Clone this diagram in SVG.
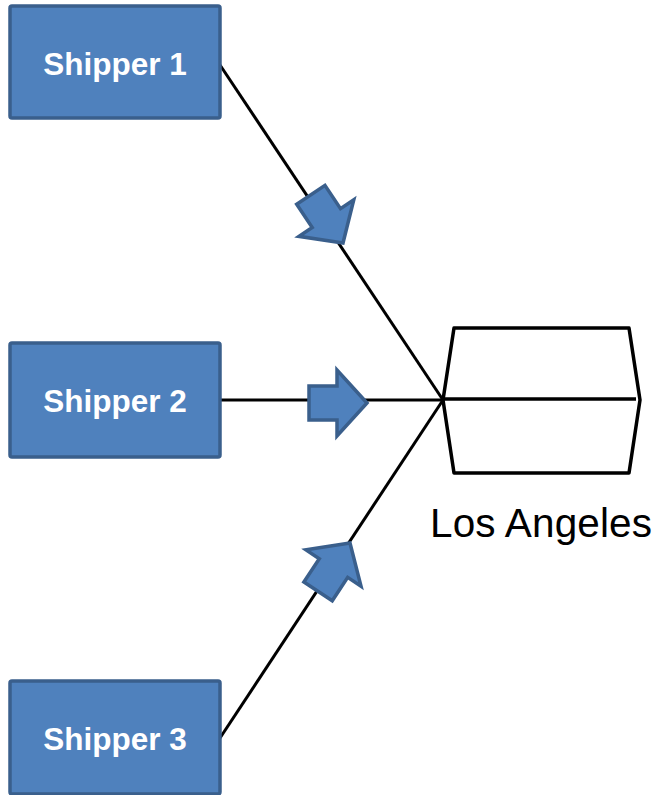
<svg xmlns="http://www.w3.org/2000/svg" width="660" height="795" viewBox="0 0 660 795">
<style>
.box{fill:#4F81BD;stroke:#3A5F8C;stroke-width:3.5}
.lbl{font-family:"Liberation Sans",Arial,sans-serif;font-weight:bold;font-size:31.5px;fill:#fff;text-anchor:middle}
.ln{stroke:#000;stroke-width:3;fill:none}
.arr{fill:#4F81BD;stroke:#3A5F8C;stroke-width:3.5;stroke-linejoin:miter}
</style>
<defs>
<path id="blk" d="M0,0 L-30,-33 L-30,-17 L-58,-17 L-58,17 L-30,17 L-30,33 Z"/>
</defs>
<g id="connectors">
<line class="ln" x1="220" y1="65" x2="443" y2="400"/>
<line class="ln" x1="220" y1="400" x2="443" y2="400"/>
<line class="ln" x1="220" y1="738" x2="443" y2="400"/>
<use href="#blk" class="arr" transform="translate(343,243) rotate(56.3)"/>
<use href="#blk" class="arr" transform="translate(367,403)"/>
<use href="#blk" class="arr" transform="translate(350,543) rotate(-56.6)"/>
</g>
<g id="shipper1">
<rect class="box" x="10" y="6" width="210" height="112" rx="2"/>
<text class="lbl" x="115" y="75">Shipper 1</text>
</g>
<g id="shipper2">
<rect class="box" x="10" y="343" width="210" height="114" rx="2"/>
<text class="lbl" x="115" y="412">Shipper 2</text>
</g>
<g id="shipper3">
<rect class="box" x="10" y="681" width="210" height="113" rx="2"/>
<text class="lbl" x="115" y="750">Shipper 3</text>
</g>
<g id="los-angeles">
<path d="M443,400 L454,328 L629,328 L640,400 L629,473 L454,473 Z" fill="#fff" stroke="#000" stroke-width="3.5" stroke-linejoin="round"/>
<line x1="443" y1="399" x2="636" y2="399" stroke="#000" stroke-width="3.5"/>
<text x="430" y="537" font-family="'Liberation Sans',Arial,sans-serif" font-size="40.5" fill="#000" textLength="222" lengthAdjust="spacing">Los Angeles</text>
</g>
</svg>
